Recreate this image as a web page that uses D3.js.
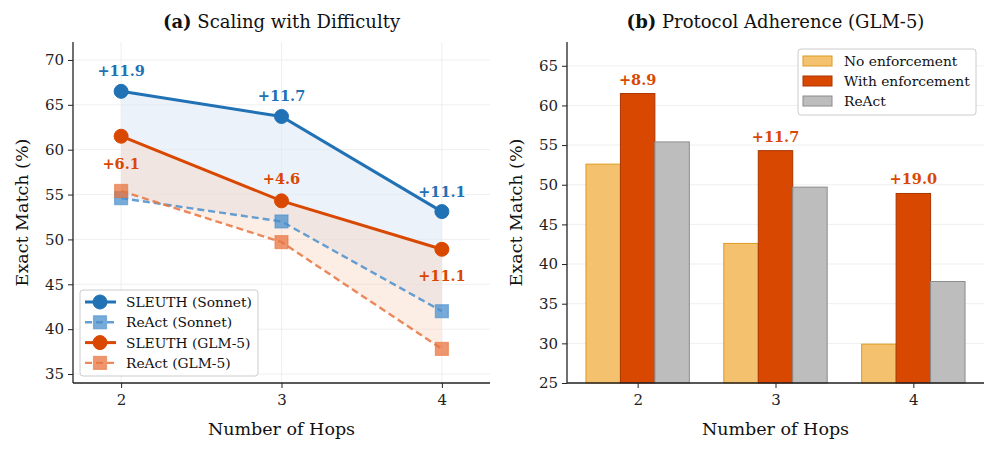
<!DOCTYPE html>
<html>
<head>
<meta charset="utf-8">
<script src="https://cdn.jsdelivr.net/npm/d3@7"></script>
<style>
  body { margin: 0; background: #fff; }
  svg { display: block; font-family: "DejaVu Serif", serif; }
  .grid line { stroke: #ebebeb; stroke-width: 0.8; }
  .axis path, .axis line { stroke: #222; }
  .axis text { font-size: 15px; fill: #222; font-family: "DejaVu Serif", serif; }
</style>
</head>
<body>
<div id="chart"></div>
<script>
// ---- data ----
const hops = [2, 3, 4]
const sleuthSonnet = [66.5, 63.7, 53.1]
const reactSonnet = [54.6, 52.0, 42.0]
const sleuthGlm = [61.5, 54.3, 48.9]
const reactGlm = [55.4, 49.7, 37.8]

const barSeries = ['No enforcement', 'With enforcement', 'ReAct']
const noEnforcement = [52.6, 42.6, 29.9]
const withEnforcement = [61.5, 54.3, 48.9]
const reactBars = [55.4, 49.7, 37.8]

const leftTicks = [35, 40, 45, 50, 55, 60, 65, 70]
const rightTicks = [25, 30, 35, 40, 45, 50, 55, 60, 65]

const blue = '#2171b5', orange = '#d94801'

const width = 997, height = 452
const svg = d3.select('#chart').append('svg')
    .attr('width', width)
    .attr('height', height)

const fmt = d => (d >= 0 ? '+' : '') + d.toFixed(1)

const title = (x, bold, rest) => {
    const t = svg.append('text')
        .attr('x', x).attr('y', 28)
        .attr('text-anchor', 'middle')
        .attr('font-size', 18)
        .attr('fill', '#111')
    t.append('tspan').attr('font-weight', 'bold').text(bold)
    t.append('tspan').text(' ' + rest)
}

const axisLabels = (g, w, h, xl, yl) => {
    g.append('text')
        .attr('x', w / 2).attr('y', h + 52)
        .attr('text-anchor', 'middle')
        .attr('font-size', 17.5).attr('fill', '#111')
        .text(xl)
    g.append('text')
        .attr('transform', `translate(-45,${h / 2}) rotate(-90)`)
        .attr('text-anchor', 'middle')
        .attr('font-size', 17.5).attr('fill', '#111')
        .text(yl)
}

/*
 *  (a) line chart
 */
const A = { x: 73, y: 42, w: 417, h: 341 }
const ga = svg.append('g').attr('transform', `translate(${A.x},${A.y})`)

const xa = d3.scaleLinear().domain([1.7, 4.3]).range([0, A.w])
const ya = d3.scaleLinear().domain([34, 72]).range([A.h, 0])

ga.append('g').attr('class', 'grid')
    .selectAll('line').data(leftTicks).join('line')
    .attr('x1', 0).attr('x2', A.w)
    .attr('y1', d => ya(d)).attr('y2', d => ya(d))
ga.append('g').attr('class', 'grid')
    .selectAll('line').data(hops).join('line')
    .attr('y1', 0).attr('y2', A.h)
    .attr('x1', d => xa(d)).attr('x2', d => xa(d))

const pairs = [
    { top: sleuthSonnet, bottom: reactSonnet, color: blue, fill: '#dce8f4', fillOp: 0.55 },
    { top: sleuthGlm, bottom: reactGlm, color: orange, fill: '#f8cdb4', fillOp: 0.35 }
]

pairs.forEach(p => {
    const area = d3.area()
        .x((d, i) => xa(hops[i]))
        .y0((d, i) => ya(p.bottom[i]))
        .y1(d => ya(d))
    ga.append('path')
        .datum(p.top)
        .attr('d', area)
        .attr('fill', p.fill)
        .attr('fill-opacity', p.fillOp)
})

const line = d3.line().x((d, i) => xa(hops[i])).y(d => ya(d))

const lineSeries = [
    { name: 'SLEUTH (Sonnet)', values: sleuthSonnet, color: blue, dash: null, marker: 'circle', op: 1 },
    { name: 'ReAct (Sonnet)', values: reactSonnet, color: '#4a8fcc', dash: '7,4', marker: 'square', op: 0.85 },
    { name: 'SLEUTH (GLM-5)', values: sleuthGlm, color: orange, dash: null, marker: 'circle', op: 1 },
    { name: 'ReAct (GLM-5)', values: reactGlm, color: '#e8743f', dash: '7,4', marker: 'square', op: 0.85 }
]

const drawMarker = (g, s, cx, cy) => {
    if (s.marker === 'circle') {
        g.append('circle').attr('cx', cx).attr('cy', cy).attr('r', 7)
            .attr('fill', s.color).attr('stroke', s.color).attr('stroke-width', 1)
    } else {
        g.append('rect').attr('x', cx - 6.5).attr('y', cy - 6.5)
            .attr('width', 13).attr('height', 13)
            .attr('fill', s.color).attr('fill-opacity', 0.75)
            .attr('stroke', s.color).attr('stroke-opacity', 0.6).attr('stroke-width', 1.2)
    }
}

// dashed React lines first, then solid SLEUTH lines
const drawOrder = [1, 3, 0, 2]
drawOrder.forEach(k => {
    const s = lineSeries[k]
    ga.append('path')
        .datum(s.values)
        .attr('d', line)
        .attr('fill', 'none')
        .attr('stroke', s.color)
        .attr('stroke-width', s.dash ? 2.4 : 3)
        .attr('stroke-dasharray', s.dash)
        .attr('opacity', s.op)
    s.values.forEach((v, i) => drawMarker(ga, s, xa(hops[i]), ya(v)))
})

// gap labels
const gapSonnet = sleuthSonnet.map((v, i) => v - reactSonnet[i])
const gapGlm = sleuthGlm.map((v, i) => v - reactGlm[i])
const glmOffset = [28, -22, 27]

gapSonnet.forEach((d, i) => {
    ga.append('text')
        .attr('x', xa(hops[i])).attr('y', ya(sleuthSonnet[i]) - 15)
        .attr('text-anchor', 'middle')
        .attr('font-size', 14.5).attr('font-weight', 'bold')
        .attr('fill', blue)
        .text(fmt(d))
})
gapGlm.forEach((d, i) => {
    ga.append('text')
        .attr('x', xa(hops[i])).attr('y', ya(sleuthGlm[i]) + glmOffset[i] + 5)
        .attr('text-anchor', 'middle')
        .attr('font-size', 14.5).attr('font-weight', 'bold')
        .attr('fill', orange)
        .text(fmt(d))
})

ga.append('g').attr('class', 'axis')
    .call(d3.axisLeft(ya).tickValues(leftTicks).tickSize(5).tickPadding(4))
    .call(g => g.select('.domain').attr('d', `M0,0V${A.h}`).attr('stroke-width', 1.3))
ga.append('g').attr('class', 'axis')
    .attr('transform', `translate(0,${A.h})`)
    .call(d3.axisBottom(xa).tickValues(hops).tickFormat(d3.format('d')).tickSize(5).tickPadding(6))
    .call(g => g.select('.domain').attr('d', `M0,0H${A.w}`).attr('stroke-width', 1.3))

// legend (a)
const la = ga.append('g').attr('transform', 'translate(7,248)')
la.append('rect').attr('width', 178).attr('height', 86).attr('rx', 3)
    .attr('fill', '#fff').attr('fill-opacity', 0.85)
    .attr('stroke', '#ccc').attr('stroke-width', 1)
lineSeries.forEach((s, i) => {
    const yy = 12 + i * 20.3
    la.append('line').attr('x1', 5).attr('x2', 36).attr('y1', yy).attr('y2', yy)
        .attr('stroke', s.color).attr('stroke-width', s.dash ? 2.4 : 3)
        .attr('stroke-dasharray', s.dash).attr('opacity', s.op)
    drawMarker(la, s, 20, yy)
    la.append('text').attr('x', 46).attr('y', yy + 5)
        .attr('font-size', 13.8).attr('fill', '#111')
        .text(s.name)
})

title(A.x + A.w / 2, '(a)', 'Scaling with Difficulty')
axisLabels(ga, A.w, A.h, 'Number of Hops', 'Exact Match (%)')

/*
 *  (b) grouped bars
 */
const B = { x: 567, y: 42, w: 417, h: 341 }
const gb = svg.append('g').attr('transform', `translate(${B.x},${B.y})`)

const xb = d3.scaleLinear().domain([-0.5125, 2.5125]).range([0, B.w])
const yb = d3.scaleLinear().domain([25, 68]).range([B.h, 0])

gb.append('g').attr('class', 'grid')
    .selectAll('line').data(rightTicks).join('line')
    .attr('x1', 0).attr('x2', B.w)
    .attr('y1', d => yb(d)).attr('y2', d => yb(d))

const barData = [noEnforcement, withEnforcement, reactBars]
const barFill = ['#f4c26e', '#d94801', '#bdbdbd']
const barEdge = ['#dc9a22', '#a83600', '#8c8c8c']
const bw = 0.25

barData.forEach((vals, s) => {
    gb.append('g').selectAll('rect').data(vals).join('rect')
        .attr('x', (d, i) => xb(i + (s - 1) * bw - bw / 2))
        .attr('width', xb(bw) - xb(0))
        .attr('y', d => yb(d))
        .attr('height', d => yb(25) - yb(d))
        .attr('fill', barFill[s])
        .attr('stroke', barEdge[s])
        .attr('stroke-width', 1)
})

const gapBars = withEnforcement.map((v, i) => v - noEnforcement[i])
gb.append('g').selectAll('text').data(gapBars).join('text')
    .attr('x', (d, i) => xb(i))
    .attr('y', (d, i) => yb(withEnforcement[i]) - 9)
    .attr('text-anchor', 'middle')
    .attr('font-size', 14.5).attr('font-weight', 'bold')
    .attr('fill', orange)
    .text(fmt)

gb.append('g').attr('class', 'axis')
    .call(d3.axisLeft(yb).tickValues(rightTicks).tickSize(5).tickPadding(4))
    .call(g => g.select('.domain').attr('d', `M0,0V${B.h}`).attr('stroke-width', 1.3))
gb.append('g').attr('class', 'axis')
    .attr('transform', `translate(0,${B.h})`)
    .call(d3.axisBottom(xb).tickValues([0, 1, 2]).tickFormat(i => hops[i]).tickSize(5).tickPadding(6))
    .call(g => g.select('.domain').attr('d', `M0,0H${B.w}`).attr('stroke-width', 1.3))

// legend (b)
const lb = gb.append('g').attr('transform', 'translate(231,7)')
lb.append('rect').attr('width', 178).attr('height', 66).attr('rx', 3)
    .attr('fill', '#fff').attr('fill-opacity', 0.85)
    .attr('stroke', '#ccc').attr('stroke-width', 1)
barSeries.forEach((name, i) => {
    const yy = 12 + i * 20
    lb.append('rect').attr('x', 5).attr('y', yy - 5).attr('width', 29).attr('height', 10)
        .attr('fill', barFill[i]).attr('stroke', barEdge[i]).attr('stroke-width', 1)
    lb.append('text').attr('x', 46).attr('y', yy + 5)
        .attr('font-size', 13.8).attr('fill', '#111')
        .text(name)
})

title(B.x + B.w / 2, '(b)', 'Protocol Adherence (GLM-5)')
axisLabels(gb, B.w, B.h, 'Number of Hops', 'Exact Match (%)')
</script>
</body>
</html>
